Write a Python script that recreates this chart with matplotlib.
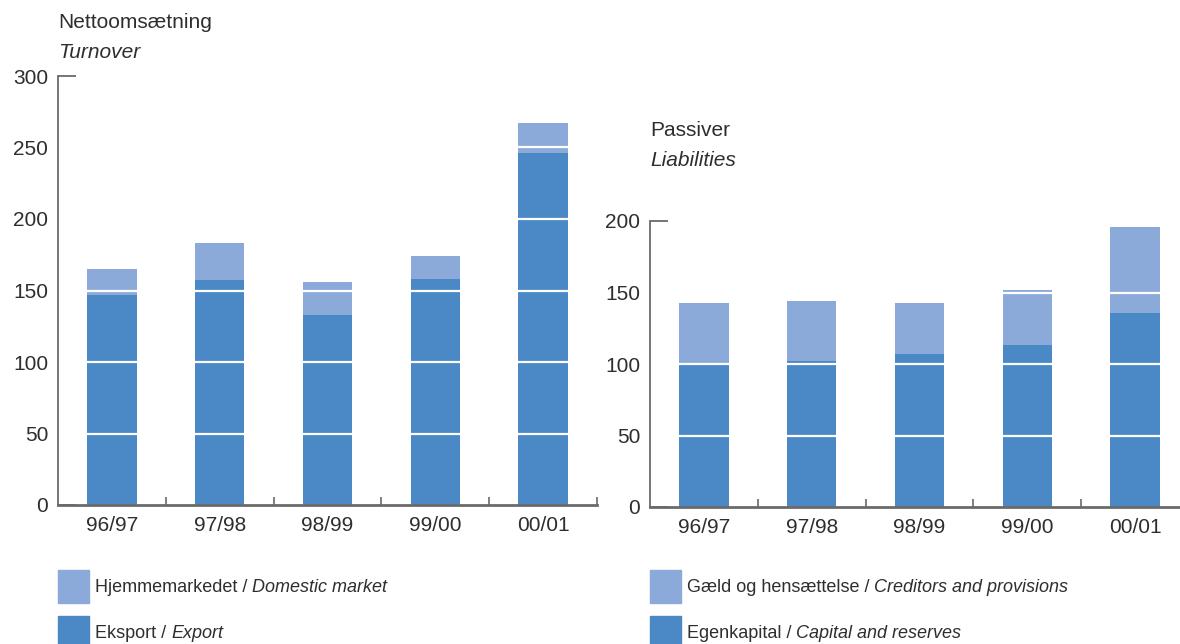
import matplotlib
matplotlib.use("Agg")
import matplotlib.pyplot as plt
from matplotlib.patches import Rectangle

# Fiscal years
years = ["96/97", "97/98", "98/99", "99/00", "00/01"]

# Turnover (DKK m): export and domestic market
export = [147, 157, 133, 158, 246]
domestic = [18, 26, 23, 16, 21]

# Liabilities (DKK m): capital and reserves, creditors and provisions
equity = [99, 102, 107, 113, 136]
creditors = [44, 42, 36, 39, 60]

DARK = "#4B88C6"
LIGHT = "#8CAAD9"
TEXT = "#2e2e2e"
AXIS = "#6a6a6a"

plt.rcParams["font.family"] = ["Liberation Sans", "DejaVu Sans"]

W, H = 1180, 644
fig = plt.figure(figsize=(W / 100, H / 100), dpi=100)


def px_axes(x0, x1, y_bottom, y_top):
    return fig.add_axes([x0 / W, 1 - y_bottom / H, (x1 - x0) / W, (y_bottom - y_top) / H])


def stacked(ax, lower, upper, ymax, step):
    xs = range(len(years))
    ax.bar(xs, lower, width=0.46, color=DARK, zorder=2)
    ax.bar(xs, upper, bottom=lower, width=0.46, color=LIGHT, zorder=2)
    for v in range(step, ymax, step):
        ax.axhline(v, color="white", lw=1.6, zorder=3)
    ax.set_xlim(-0.5, len(years) - 0.5)
    ax.set_ylim(0, ymax)
    ax.set_yticks(range(0, ymax + 1, step))
    ax.tick_params(axis="y", direction="in", length=13, width=1.3, color=AXIS,
                   labelsize=15, labelcolor=TEXT, pad=7)
    ax.set_xticks(range(len(years)))
    ax.set_xticklabels(years)
    ax.tick_params(axis="x", length=0, labelsize=15, labelcolor=TEXT, pad=8)
    ax.set_xticks([i + 0.5 for i in range(len(years))], minor=True)
    ax.tick_params(axis="x", which="minor", direction="in", length=6, width=1.2, color=AXIS)
    for s in ("top", "right"):
        ax.spines[s].set_visible(False)
    ax.spines["left"].set_color(AXIS)
    ax.spines["left"].set_linewidth(1.3)
    ax.spines["bottom"].set_color(AXIS)
    ax.spines["bottom"].set_linewidth(2)
    ax.spines["left"].set_zorder(4)
    ax.spines["bottom"].set_zorder(4)


ax1 = px_axes(58, 597, 505, 76)
stacked(ax1, export, domestic, 300, 50)

ax2 = px_axes(650, 1189, 507, 221)
stacked(ax2, equity, creditors, 200, 50)

# Chart titles
fig.text(58 / W, 1 - 23 / H, "Nettoomsætning", fontsize=15, color=TEXT, va="center")
fig.text(58 / W, 1 - 53 / H, "Turnover", fontsize=15, color=TEXT, va="center", style="italic")
fig.text(650 / W, 1 - 130 / H, "Passiver", fontsize=15, color=TEXT, va="center")
fig.text(650 / W, 1 - 160 / H, "Liabilities", fontsize=15, color=TEXT, va="center", style="italic")

renderer = fig.canvas.get_renderer()


def legend_item(x, y, color, normal, italic):
    fig.patches.append(Rectangle((x / W, 1 - (y + 16) / H), 31 / W, 33 / H,
                                 transform=fig.transFigure, color=color, figure=fig))
    t = fig.text((x + 37) / W, 1 - y / H, normal + " / ", fontsize=13, color=TEXT, va="center")
    bb = t.get_window_extent(renderer=renderer)
    fig.text(bb.x1 / W, 1 - y / H, italic, fontsize=13, color=TEXT, va="center", style="italic")


legend_item(58, 587, LIGHT, "Hjemmemarkedet", "Domestic market")
legend_item(58, 633, DARK, "Eksport", "Export")
legend_item(650, 587, LIGHT, "Gæld og hensættelse", "Creditors and provisions")
legend_item(650, 633, DARK, "Egenkapital", "Capital and reserves")

fig.savefig("out.png", dpi=100)
